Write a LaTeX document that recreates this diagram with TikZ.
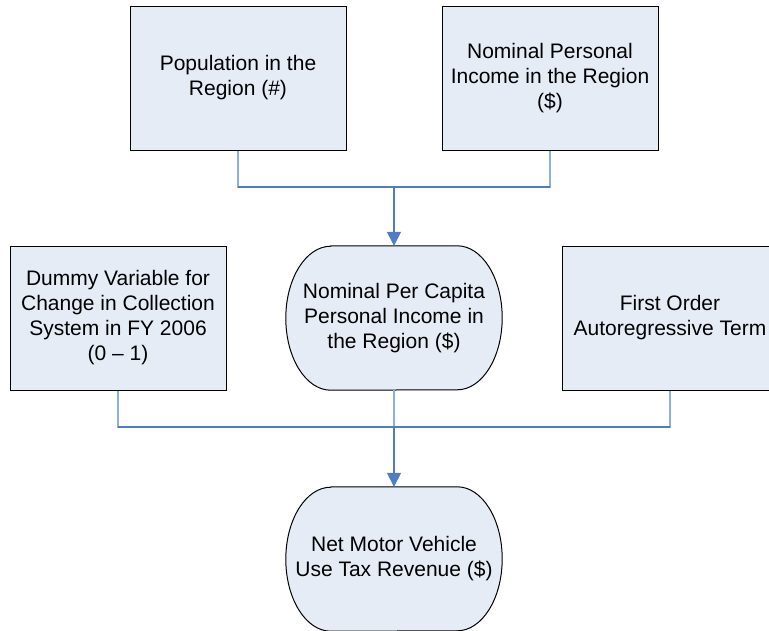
\documentclass[tikz,border=0pt]{standalone}
\usepackage{fontspec}
\setmainfont{Liberation Sans}
\usetikzlibrary{arrows.meta,backgrounds}
\definecolor{boxfill}{HTML}{E6ECF6}
\definecolor{linedark}{HTML}{4F7CC4}
\definecolor{linelight}{HTML}{8FAFDF}
\tikzset{
  x=1pt,y=1pt,
  txt/.style={font=\fontsize{21}{25}\selectfont, align=center, inner sep=0pt},
  sqbox/.style={txt, rectangle, draw=black, line width=1pt, fill=boxfill, minimum width=216pt, minimum height=144pt},
  ovbox/.style={txt, rectangle, minimum width=216pt, minimum height=144pt},
  ovline/.style={draw=black, line width=1pt, fill=boxfill},
  srcline/.style={draw=linelight, line width=1.5pt},
  mainline/.style={draw=linedark, line width=1.5pt},
  arr/.style={mainline, -{Triangle[length=14pt,width=14pt]}}
}
\newcommand{\ovalpath}[1]{%
  \filldraw[ovline] ([xshift=45pt]#1.north west) -- ([xshift=-45pt]#1.north east)
    arc[start angle=90,end angle=0,x radius=45pt,y radius=72pt]
    arc[start angle=0,end angle=-90,x radius=45pt,y radius=72pt]
    -- ([xshift=45pt]#1.south west)
    arc[start angle=270,end angle=180,x radius=45pt,y radius=72pt]
    arc[start angle=180,end angle=90,x radius=45pt,y radius=72pt]
    -- cycle;}
\begin{document}
\begin{tikzpicture}
\useasboundingbox (0,0) rectangle (769,-630);
\clip (0,0) rectangle (769,-630);
\node[sqbox] (pop) at (238,-78) {Population in the\\Region (\#)};
\node[sqbox] (inc) at (550,-78) {Nominal Personal\\Income in the Region\\(\$)};
\node[sqbox] (dum) at (118,-318) {Dummy Variable for\\Change in Collection\\System in FY 2006\\(0 -- 1)};
\node[ovbox] (pci) at (394,-318) {Nominal Per Capita\\Personal Income in\\the Region (\$)};
\node[sqbox] (ar) at (670,-318) {First Order\\Autoregressive Term};
\node[ovbox] (rev) at (394,-559) {Net Motor Vehicle\\Use Tax Revenue (\$)};
\begin{scope}[on background layer]
\ovalpath{pci}
\ovalpath{rev}
\end{scope}
\coordinate (j1) at (394,-187);
\coordinate (j2) at (394,-427);
\draw[srcline] (pop.south) |- (j1);
\draw[srcline] (inc.south) |- (j1);
\draw[mainline] (pop.south |- j1) -- (inc.south |- j1);
\draw[arr] (j1) -- (pci.north);
\draw[srcline] (dum.south) |- (j2);
\draw[srcline] (ar.south) |- (j2);
\draw[srcline] (pci.south) -- (j2);
\draw[mainline] (dum.south |- j2) -- (ar.south |- j2);
\draw[arr] (j2) -- (rev.north);
\end{tikzpicture}
\end{document}
